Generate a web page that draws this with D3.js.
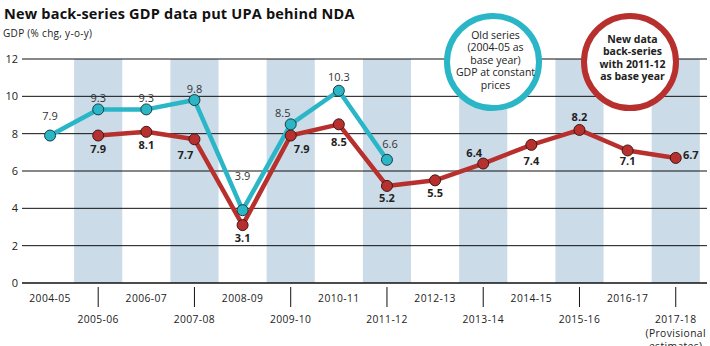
<!DOCTYPE html>
<html>
<head>
<meta charset="utf-8">
<script src="https://cdn.jsdelivr.net/npm/d3@7"></script>
<style>
  body { margin: 0; background: #fff; }
  svg { display: block; font-family: "Open Sans", "Noto Sans", sans-serif; }
</style>
</head>
<body>
<div id="chart"></div>
<script>
const years = ['2004-05','2005-06','2006-07','2007-08','2008-09','2009-10','2010-11',
               '2011-12','2012-13','2013-14','2014-15','2015-16','2016-17','2017-18'];
const oldSeries = [7.9, 9.3, 9.3, 9.8, 3.9, 8.5, 10.3, 6.6];
const newSeries = [null, 7.9, 8.1, 7.7, 3.1, 7.9, 8.5, 5.2, 5.5, 6.4, 7.4, 8.2, 7.1, 6.7];
const yTicks = [0, 2, 4, 6, 8, 10, 12];

// label offsets (dx, dy) relative to each point
const oldLabelPos = [[0,-15.5],[0,-7],[0,-7],[0,-7],[0,-30],[-8,-7],[0,-10],[3,-12]];
const newLabelPos = [null,[0,17],[0,17],[-9,20],[0,17],[11,17],[0,22],[0,16],[0,17],[-9,-6.5],[0,20],[0,-8.5],[0,15],[15,1.5]];

const W = 710, H = 346;
const svg = d3.select('#chart').append('svg').attr('width', W).attr('height', H);

const x = d3.scaleBand().domain(years).range([26, 699.8]);
const y = d3.scaleLinear().domain([0, 12]).range([283, 59]);
const cx = d => x(d) + x.bandwidth() / 2;

const teal = '#2ab6c6', red = '#b8302d';

// shaded bands
svg.append('g').selectAll('rect')
  .data(years.filter((d, i) => i % 2 === 1))
  .join('rect')
    .attr('x', d => x(d)).attr('y', 59)
    .attr('width', x.bandwidth()).attr('height', 283 - 59)
    .attr('fill', '#cbdbe8');

// gridlines + y labels
const grid = svg.append('g');
grid.selectAll('line').data(yTicks).join('line')
  .attr('x1', 22).attr('x2', 707)
  .attr('y1', d => y(d)).attr('y2', d => y(d))
  .attr('stroke', '#111').attr('stroke-width', d => d === 0 ? 1.4 : 1);
grid.selectAll('text').data(yTicks).join('text')
  .attr('x', 18).attr('y', d => y(d) + 4)
  .attr('text-anchor', 'end')
  .attr('font-size', 11).attr('fill', '#222')
  .text(d => d);

// x axis ticks and labels
const xa = svg.append('g').attr('font-size', 10.3).attr('letter-spacing', 0.4).attr('fill', '#222');
xa.selectAll('line').data(years.filter((d, i) => i % 2 === 1)).join('line')
  .attr('x1', cx).attr('x2', cx).attr('y1', 287).attr('y2', 307)
  .attr('stroke', '#111').attr('stroke-width', 1);
xa.selectAll('text').data(years).join('text')
  .attr('x', cx)
  .attr('y', (d, i) => i % 2 === 0 ? 302 : 323)
  .attr('text-anchor', 'middle')
  .text(d => d);
xa.append('text').attr('x', cx('2017-18')).attr('y', 337)
  .attr('text-anchor', 'middle').text('(Provisional');
xa.append('text').attr('x', cx('2017-18')).attr('y', 350)
  .attr('text-anchor', 'middle').text('estimates)');

// lines
const oldData = oldSeries.map((v, i) => ({ year: years[i], v, pos: oldLabelPos[i] }));
const newData = newSeries.map((v, i) => ({ year: years[i], v, pos: newLabelPos[i] }))
  .filter(d => d.v !== null);

const line = d3.line().x(d => cx(d.year)).y(d => y(d.v));

svg.append('path').datum(newData).attr('d', line)
  .attr('fill', 'none').attr('stroke', red).attr('stroke-width', 4.5)
  .attr('stroke-linejoin', 'round');
svg.append('path').datum(oldData).attr('d', line)
  .attr('fill', 'none').attr('stroke', teal).attr('stroke-width', 4.5)
  .attr('stroke-linejoin', 'round');

svg.append('g').selectAll('circle').data(newData).join('circle')
  .attr('cx', d => cx(d.year)).attr('cy', d => y(d.v)).attr('r', 5.5)
  .attr('fill', red).attr('stroke', '#3a1a18').attr('stroke-width', 1);
svg.append('g').selectAll('circle').data(oldData).join('circle')
  .attr('cx', d => cx(d.year)).attr('cy', d => y(d.v)).attr('r', 5.5)
  .attr('fill', teal).attr('stroke', '#1d3c40').attr('stroke-width', 1);

// value labels
svg.append('g').selectAll('text').data(oldData).join('text')
  .attr('x', d => cx(d.year) + d.pos[0]).attr('y', d => y(d.v) + d.pos[1])
  .attr('text-anchor', 'middle').attr('font-size', 11).attr('fill', '#333')
  .text(d => d.v.toFixed(1));
svg.append('g').selectAll('text').data(newData).join('text')
  .attr('x', d => cx(d.year) + d.pos[0]).attr('y', d => y(d.v) + d.pos[1])
  .attr('text-anchor', 'middle').attr('font-size', 11).attr('font-weight', 'bold')
  .attr('fill', '#222')
  .text(d => d.v.toFixed(1));

// legend circles
const leg = [
  { c: teal, x: 493, lines: ['Old series', '(2004-05 as', 'base year)', 'GDP at constant', 'prices'], bold: false, y0: 38.5 },
  { c: red, x: 630, lines: ['New data', 'back-series', 'with 2011-12', 'as base year'], bold: true, y0: 42.5 }
];
leg.forEach(l => {
  svg.append('circle').attr('cx', l.x).attr('cy', 62).attr('r', 46)
    .attr('fill', '#fff').attr('stroke', l.c).attr('stroke-width', 6);
  svg.append('g').selectAll('text').data(l.lines).join('text')
    .attr('x', l.x + 2.5).attr('y', (d, i) => l.y0 + i * 12.5)
    .attr('text-anchor', 'middle').attr('font-size', 10.5)
    .attr('font-weight', l.bold ? 'bold' : 'normal').attr('fill', '#222')
    .text(d => d);
});

// titles
svg.append('text').attr('x', 4).attr('y', 19)
  .attr('font-size', 14.5).attr('letter-spacing', 0.2).attr('font-weight', 'bold').attr('fill', '#111')
  .text('New back-series GDP data put UPA behind NDA');
svg.append('text').attr('x', 3).attr('y', 37)
  .attr('font-size', 10).attr('letter-spacing', 0.3).attr('fill', '#222')
  .text('GDP (% chg, y-o-y)');
</script>
</body>
</html>
